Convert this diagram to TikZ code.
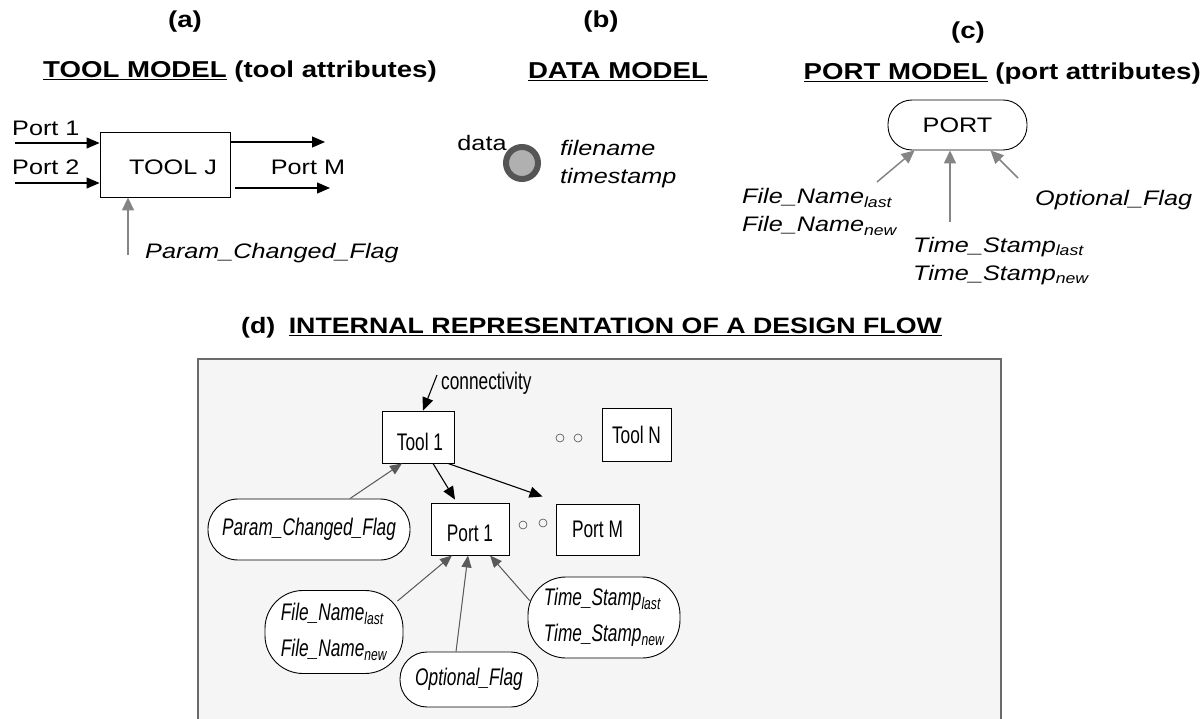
\documentclass[tikz,border=0pt]{standalone}
\usepackage{fontspec}
\setmainfont{Liberation Sans}
\newfontfamily\topfont{Liberation Sans}[FakeStretch=1.2]
\newfontfamily\panelfont{Liberation Sans}[FakeStretch=0.72]
\usetikzlibrary{arrows.meta,calc}
\newcommand\lowsub[1]{\textsubscript{#1}}
\definecolor{arrgray}{HTML}{858585}
\definecolor{parrgray}{HTML}{5A5A5A}
\definecolor{panelbg}{HTML}{F5F5F5}
\definecolor{paneledge}{HTML}{6A6A6A}
\definecolor{ringgray}{HTML}{555555}
\definecolor{dotfill}{HTML}{B0B0B0}
\tikzset{
  txtA/.style={font=\topfont\fontsize{21}{30}\selectfont, inner sep=0pt},
  ttlA/.style={font=\topfont\bfseries\fontsize{23}{26}\selectfont, inner sep=0pt},
  txtP/.style={font=\panelfont\fontsize{24}{36}\selectfont, inner sep=0pt},
  boxA/.style={draw, fill=white, line width=0.9pt, rectangle, inner sep=0pt},
  ovalA/.style={draw, fill=white, line width=0.9pt, rectangle, inner sep=0pt},
  blkarr/.style={-{Triangle[length=13pt,width=11pt]}, line width=1.1pt},
  gryarr/.style={-{Triangle[length=13pt,width=12pt]}, draw=arrgray, fill=arrgray, line width=1.5pt},
  pgryarr/.style={-{Triangle[length=12pt,width=10pt]}, draw=parrgray, fill=parrgray, line width=1pt},
  dotc/.style={circle, draw=black!70, line width=0.6pt, minimum size=8pt, inner sep=0pt},
}
\begin{document}
\begin{tikzpicture}[x=1pt,y=-1pt]
\useasboundingbox (0,0) rectangle (1203,719);

% ---------- headings ----------
\node[ttlA] (ha) at (185,22) {(a)};
\node[ttlA, anchor=west] (ta) at (43,72) {\underline{TOOL MODEL} (tool attributes)};
\node[ttlA] (hb) at (601,22) {(b)};
\node[ttlA] (tb) at (618,72) {\underline{DATA MODEL}};
\node[ttlA] (hc) at (968,33) {(c)};
\node[ttlA, anchor=east] (tc) at (1201,74) {\underline{PORT MODEL} (port attributes)};
\node[ttlA, anchor=west, font=\topfont\bfseries\fontsize{22.3}{26}\selectfont] (td) at (241,328) {(d)\hspace{0.6em}\underline{INTERNAL REPRESENTATION OF A DESIGN FLOW}};

% ---------- (a) tool model ----------
\node[boxA, minimum width=130pt, minimum height=65pt] (toolj) at (165,164.5) {};
\node[txtA] (toolJt) at (173,167) {TOOL J};
\node[txtA, anchor=west] (p1t) at (12,128) {Port 1};
\node[txtA, anchor=west] (p2t) at (12,167) {Port 2};
\node[txtA] (pmt) at (308,167) {Port M};
\coordinate (p1s) at (15,143);
\coordinate (p2s) at (15,183);
\coordinate (o1e) at (325,142);
\coordinate (o2s) at (235,188);
\coordinate (o2e) at (330,188);
\draw[blkarr] (p1s) -- (p1s -| toolj.west);
\draw[blkarr] (p2s) -- (p2s -| toolj.west);
\draw[blkarr] (o1e -| toolj.east) -- (o1e);
\draw[blkarr] (o2s) -- (o2e);
\coordinate (pjs) at (128,255);
\draw[gryarr] (pjs) -- (pjs |- toolj.south);
\node[txtA, anchor=west] (pcf) at (145,253) {\itshape Param\_Changed\_Flag};

% ---------- (b) data model ----------
\node[circle, draw=ringgray, fill=dotfill, line width=6pt, minimum size=32pt, inner sep=0pt] (datac) at (522,163) {};
\node[txtA] (datat) at (482,143) {data};
\node[txtA, anchor=west] (fnm) at (560,148) {\itshape filename};
\node[txtA, anchor=west] (tsm) at (560,178) {\itshape timestamp};

% ---------- (c) port model ----------
\node[ovalA, rounded corners=24pt, minimum width=139pt, minimum height=50pt, font=\topfont\fontsize{21}{24}\selectfont] (port) at (957.5,125) {PORT};
\node[txtA, anchor=west, align=left] (pfn) at (742,212) {\itshape File\_Name\lowsub{last}\\[-2pt]\itshape File\_Name\lowsub{new}};
\node[txtA, anchor=west, align=left] (pts) at (913,261) {\itshape Time\_Stamp\lowsub{last}\\[-2pt]\itshape Time\_Stamp\lowsub{new}};
\node[txtA, anchor=west] (pof) at (1035,200) {\itshape Optional\_Flag};
\coordinate (c1) at (877,182);
\coordinate (c2) at (950,222);
\coordinate (c3) at (1018,178);
\draw[gryarr] (c1) -- ($(port.south)+(-43,0)$);
\draw[gryarr] (c2) -- (c2 |- port.south);
\draw[gryarr] (c3) -- ($(port.south)+(33,0)$);

% ---------- (d) panel ----------
\fill[panelbg] (198,359) rectangle (1001,725);
\draw[paneledge, line width=1.2pt] (198,725) -- (198,359) -- (1001,359) -- (1001,725);

\node[boxA, minimum width=72pt, minimum height=52pt] (tool1) at (418,437) {};
\node[txtP] (tool1t) at (420,442) {Tool 1};
\node[boxA, minimum width=69pt, minimum height=53pt, txtP] (tooln) at (636.5,434.5) {Tool N};
\node[boxA, minimum width=78pt, minimum height=52pt] (port1) at (470,529) {};
\node[txtP] (port1t) at (470,533) {Port 1};
\node[boxA, minimum width=83pt, minimum height=51pt, txtP] (portm) at (597.5,529.5) {Port M};

\node[dotc] (d1) at (560,438) {};
\node[dotc] (d2) at (578,438) {};
\node[dotc] (d3) at (523,525) {};
\node[dotc] (d4) at (543,523) {};

\node[ovalA, rounded corners=30pt, minimum width=202pt, minimum height=61pt, txtP] (param) at (309,529.5) {\itshape Param\_Changed\_Flag};
\node[ovalA, rounded corners=38pt, minimum width=138pt, minimum height=83pt, txtP, align=left] (fn) at (334,632) {\itshape File\_Name\lowsub{last}\\\itshape File\_Name\lowsub{new}};
\node[ovalA, rounded corners=27pt, minimum width=138pt, minimum height=55pt, txtP] (opt) at (469,679.5) {\itshape Optional\_Flag};
\node[ovalA, rounded corners=38pt, minimum width=152pt, minimum height=81pt, txtP, align=left] (ts) at (604,617.5) {\itshape Time\_Stamp\lowsub{last}\\\itshape Time\_Stamp\lowsub{new}};

\node[txtP, anchor=west] (conn) at (441,383) {connectivity};
\coordinate (cs) at (437,375);
\draw[blkarr] (cs) -- ($(tool1.north)+(5,0)$);
\draw[blkarr] ($(tool1.south)+(15,0)$) -- ($(port1.north)+(-15,-3)$);
\draw[blkarr] ($(tool1.south)+(30,0)$) -- ($(portm.north west)+(-13,-7)$);
\draw[pgryarr] ($(param.north)+(41,0)$) -- ($(tool1.south)+(-16,0)$);
\draw[pgryarr] ($(fn.north east)+(-6,11)$) -- ($(port1.south)+(-18,0)$);
\draw[pgryarr] ($(opt.north)+(-13,0)$) -- ($(port1.south)+(-2,0)$);
\draw[pgryarr] ($(ts.west)+(2,-17)$) -- ($(port1.south)+(20,0)$);
\end{tikzpicture}
\end{document}
